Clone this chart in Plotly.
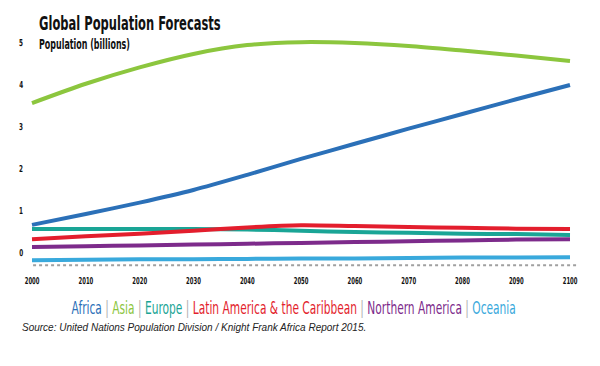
import plotly.graph_objects as go

years = [2000, 2010, 2020, 2030, 2040, 2050, 2060, 2070, 2080, 2090, 2100]

africa = [0.67, 0.93, 1.20, 1.50, 1.86, 2.24, 2.60, 2.96, 3.31, 3.66, 4.00]
asia = [3.57, 4.03, 4.42, 4.74, 4.95, 5.02, 5.00, 4.93, 4.82, 4.70, 4.57]
europe = [0.57, 0.57, 0.57, 0.57, 0.56, 0.53, 0.50, 0.48, 0.46, 0.45, 0.43]
latin = [0.33, 0.40, 0.46, 0.53, 0.61, 0.66, 0.64, 0.62, 0.60, 0.58, 0.57]
n_america = [0.14, 0.16, 0.18, 0.20, 0.22, 0.24, 0.26, 0.28, 0.30, 0.32, 0.33]
oceania = [-0.17, -0.16, -0.15, -0.15, -0.14, -0.13, -0.13, -0.12, -0.11, -0.11, -0.10]

series_names = ["Africa", "Asia", "Europe", "Latin America & the Caribbean",
                "Northern America", "Oceania"]
series_values = [africa, asia, europe, latin, n_america, oceania]
colors = ["#2b70b8", "#8cc63e", "#1aa596", "#e31e2d", "#7d2b8b", "#39a9dc"]

x_ticks = [2000, 2010, 2020, 2030, 2040, 2050, 2060, 2070, 2080, 2090, 2100]
y_ticks = [0, 1, 2, 3, 4, 5]
baseline = -0.29

FAM = "DejaVu Sans, sans-serif"

fig = go.Figure()
order = [5, 4, 2, 3, 0, 1]
for i in order:
    fig.add_trace(go.Scatter(
        x=years, y=series_values[i], name=series_names[i], mode="lines",
        line=dict(color=colors[i], width=4, shape="spline", smoothing=0.8),
        showlegend=False, hoverinfo="skip"))

fig.add_shape(type="line", xref="x", yref="y", x0=2000.2, x1=2101.6,
              y0=baseline, y1=baseline,
              line=dict(color="#a0a0a0", width=2, dash="dot"), layer="below")

W, H = 600, 366
l, r, t, b = 25, 18, 28, 98
pw, ph = W - l - r, H - t - b

def px(xp):
    return (xp - l) / pw

def py(yp):
    return (H - b - yp) / ph

sep = " <span style='color:#b0b0b0'>|</span> "
legend_text = sep.join(
    f"<span style='color:{c}'>{n}</span>" for n, c in zip(series_names, colors))

annotations = [
    dict(text="<b>Global Population Forecasts</b>", x=px(37), y=py(23),
         xanchor="left", yanchor="middle",
         font=dict(family=FAM, size=20, color="#111111")),
    dict(text="<b>Population (billions)</b>", x=px(37), y=py(44),
         xanchor="left", yanchor="middle",
         font=dict(family=FAM, size=13.5, color="#111111")),
    dict(text=legend_text, x=px(293), y=py(308), xanchor="center", yanchor="middle",
         font=dict(family=FAM, size=17)),
    dict(text="<i>Source: United Nations Population Division / Knight Frank Africa Report 2015.</i>",
         x=px(20), y=py(327), xanchor="left", yanchor="middle",
         font=dict(family="Liberation Sans, Arial, sans-serif", size=10, color="#222222")),
]
for a in annotations:
    a.update(xref="paper", yref="paper", showarrow=False)

fig.update_layout(
    width=W, height=H,
    margin=dict(l=l, r=r, t=t, b=b),
    plot_bgcolor="white", paper_bgcolor="white",
    annotations=annotations,
    xaxis=dict(range=[2000 - 7 / 5.38, 2100 + 12 / 5.38], tickvals=x_ticks,
               ticktext=[f"<b>{v}</b>" for v in x_ticks],
               showgrid=False, zeroline=False, showline=False, ticks="",
               tickfont=dict(family=FAM, size=9.5, color="#111111"),
               ticklabelstandoff=6),
    yaxis=dict(range=[-15 / 42, 225 / 42], tickvals=y_ticks,
               ticktext=[f"<b>{v}</b>" for v in y_ticks],
               showgrid=False, zeroline=False, showline=False, ticks="",
               tickfont=dict(family=FAM, size=9.5, color="#111111"),
               ticklabelstandoff=1),
)

# emulate the condensed typeface of the original by squeezing text horizontally
post = """
document.body.style.margin='0';
function squeeze(el, s, mode){
  var bb = el.getBBox();
  var cx = mode === 'left' ? bb.x : (mode === 'right' ? bb.x + bb.width : bb.x + bb.width / 2);
  var orig = el.getAttribute('transform') || '';
  el.setAttribute('transform', orig + ' translate(' + cx + ' 0) scale(' + s + ' 1) translate(' + (-cx) + ' 0)');
}
var gd = document.getElementById('{plot_id}');
var conf = [[0.575,'left'],[0.59,'left'],[0.627,'center']];
gd.querySelectorAll('g.annotation').forEach(function(g){
  var i = parseInt(g.getAttribute('data-index'));
  if (i < conf.length){
    var t = g.querySelector('text.annotation-text');
    if (t) squeeze(t, conf[i][0], conf[i][1]);
  }
});
gd.querySelectorAll('g.xtick text').forEach(function(t){ squeeze(t, 0.56, 'center'); });
gd.querySelectorAll('g.ytick text').forEach(function(t){ squeeze(t, 0.6, 'right'); });
"""

fig.write_html("out.html", post_script=post, config={"displayModeBar": False})
